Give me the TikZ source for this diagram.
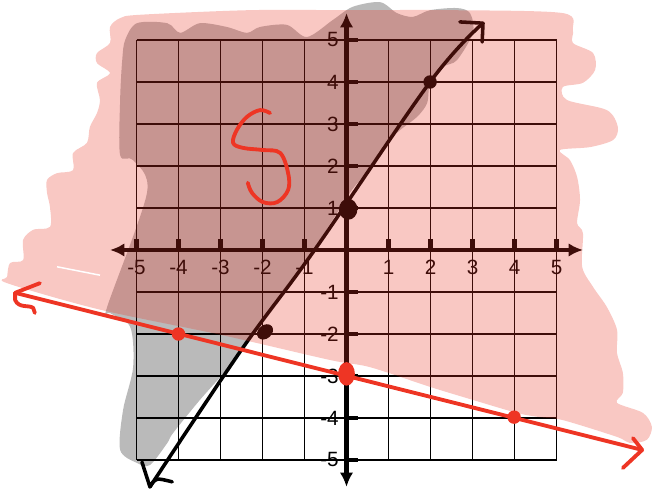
\documentclass[tikz,border=0pt]{standalone}
\usepackage{fontspec}
\setsansfont{Liberation Sans}
\usepackage{tikz}
\usetikzlibrary{arrows.meta}
\definecolor{pen}{HTML}{EE3524}
\definecolor{wash}{HTML}{E83223}

\begin{document}
\begin{tikzpicture}[
  gridline/.style={draw=black,line width=1.3pt},
  axisline/.style={draw=black,line width=3pt,{Latex[length=3.4mm,width=3.2mm]}-{Latex[length=3.4mm,width=3.2mm]}},
  tickmark/.style={draw=black,line width=2.8pt},
  numlabel/.style={font=\sffamily\fontsize{14}{14}\selectfont,inner sep=0pt},
  greywash/.style={fill=black,fill opacity=0.27},
  pinkwash/.style={fill=wash,fill opacity=0.27},
  inkline/.style={draw=black,line width=2.4pt,line cap=round,line join=round},
  redline/.style={draw=pen,line width=2.6pt,line cap=round,line join=round}
]
\useasboundingbox (-8.25,-5.905) rectangle (7.345,5.952);

% grid and axes
\draw[gridline] (-5,-5) grid (5,5);
\coordinate (xmin) at (-5.63,0);
\coordinate (xmax) at (5.63,0);
\coordinate (ymin) at (0,-5.64);
\coordinate (ymax) at (0,5.64);
\foreach \i in {-5,...,-1,1,2,...,5} {
  \draw[tickmark] (\i,0) -- (\i,0.25);
  \draw[tickmark] (0,\i) -- (0.27,\i);
  \node[numlabel] (xl\i) at (\i,-0.42) {\i};
  \node[numlabel,anchor=east] (yl\i) at (-0.18,\i) {\i};
}
\draw[axisline] (xmin) -- (xmax);
\draw[axisline] (ymin) -- (ymax);

% y = 3/2 x + 1
\coordinate (btop) at (3.25,5.40);
\coordinate (bbot) at (-4.68,-5.64);
\coordinate (pa) at (0.04,0.97);
\coordinate (pb) at (1.99,4.0);
\coordinate (pc) at (-1.94,-1.95);
\draw[inkline] plot[smooth,tension=0.6] coordinates {(bbot) (-2.49,-2.36) (-0.76,0) (pb) (btop)};
\draw[inkline] (2.70,5.43) -- (btop) -- (3.23,4.95);
\draw[inkline] (-4.87,-5.05) -- (bbot) .. controls (-4.55,-5.42) .. (-4.15,-5.52);
\fill[black] (pa) ellipse [x radius=0.22,y radius=0.25];
\fill[black] (pb) circle [radius=0.16];
\fill[black,rotate around={40:(pc)}] (pc) ellipse [x radius=0.21,y radius=0.16];

% shading
\fill[greywash] plot[smooth cycle,tension=0.5] coordinates {
  (-4.99,5.40) (-4.27,5.40) (-3.96,5.17) (-3.49,5.40) (-2.85,5.31) (-2.37,5.17)
  (-2.06,5.31) (-1.42,5.36) (-0.94,5.07) (-0.32,5.48) (0.15,5.79) (0.80,5.90)
  (1.20,5.64) (1.58,5.55) (1.99,5.71) (2.63,5.76) (2.94,5.64) (3.01,5.17)
  (2.63,4.52) (2.30,4.36) (1.99,3.98) (1.92,3.50) (1.68,3.17) (1.20,2.79)
  (0.80,2.31) (0.39,1.74) (0.08,1.36) (-0.76,0.05) (-1.80,-1.40) (-2.55,-2.45)
  (-2.94,-2.95) (-3.49,-3.57) (-4.13,-4.36) (-4.27,-4.60) (-4.68,-5.12)
  (-4.99,-5.07) (-5.39,-4.76) (-5.32,-3.81) (-5.08,-2.79) (-5.15,-1.83)
  (-5.63,-1.50) (-5.70,-1.36) (-4.75,1.36) (-5.08,2.14) (-5.39,2.26)
  (-5.39,3.57) (-5.34,4.52) (-5.27,5.00)};
\fill[pinkwash] plot[smooth cycle,tension=0.5] coordinates {
  (-5.39,5.52) (-4.92,5.60) (-2.30,5.71) (0.08,5.71) (2.46,5.71) (5.15,5.64)
  (5.39,5.24) (5.39,4.93) (5.87,4.69) (5.92,4.29) (5.63,3.98) (5.15,3.88)
  (5.25,3.57) (6.20,3.33) (6.46,2.93) (6.35,2.62) (5.80,2.45) (5.08,2.38)
  (5.32,2.14) (5.49,1.74) (5.56,1.19) (5.49,0.64) (5.63,0.40) (5.61,-0.40)
  (5.87,-0.88) (6.20,-1.36) (6.44,-1.90) (6.44,-2.45) (6.58,-2.93) (6.58,-3.40)
  (6.44,-3.64) (7.06,-3.88) (7.27,-4.21) (7.15,-4.52) (6.75,-4.60) (6.44,-4.45)
  (5.15,-4.05) (4.60,-3.98) (4.06,-3.88) (3.01,-3.57) (1.99,-3.26) (0.56,-2.79)
  (-0.39,-2.62) (-2.99,-2.02) (-5.87,-1.42) (-8.08,-0.79) (-8.08,-0.64)
  (-8.01,-0.31) (-7.70,-0.24) (-7.70,0.24) (-7.46,0.48) (-7.06,0.55)
  (-7.06,1.02) (-7.13,1.36) (-7.13,1.67) (-6.89,1.83) (-6.51,1.90)
  (-6.51,2.31) (-6.18,2.55) (-6.11,2.93) (-5.94,3.26) (-5.87,3.57)
  (-5.94,3.98) (-5.63,4.21) (-5.94,4.45) (-5.94,4.69) (-5.63,4.93) (-5.63,5.31)};
\draw[white,line width=1pt] (-6.89,-0.40) -- (-5.87,-0.60);

% y = -1/4 x - 3
\coordinate (rleft) at (-7.89,-1.02);
\coordinate (rright) at (7.04,-4.76);
\coordinate (qa) at (-4,-2);
\coordinate (qb) at (0,-2.95);
\coordinate (qc) at (3.99,-3.98);
\draw[redline] (rleft) -- (rright);
\draw[redline] (6.82,-4.48) -- (rright) -- (6.58,-5.19);
\draw[redline] (-7.30,-0.79) -- (rleft) -- (-7.89,-1.19) .. controls (-7.8,-1.40) and (-7.55,-1.30) .. (-7.46,-1.38) -- (-7.42,-1.5);
\fill[pen] (qa) circle [radius=0.16];
\fill[pen] (qb) ellipse [x radius=0.2,y radius=0.28];
\fill[pen] (qc) circle [radius=0.16];

% region label
\draw[redline] plot[smooth,tension=0.6] coordinates {
  (-1.82,3.26) (-2.06,3.33) (-2.37,3.17) (-2.61,2.86) (-2.70,2.55) (-2.46,2.43)
  (-1.99,2.38) (-1.58,2.31) (-1.39,1.83) (-1.39,1.43) (-1.65,1.14) (-1.99,1.14)
  (-2.25,1.36) (-2.35,1.60)};
\end{tikzpicture}
\end{document}
